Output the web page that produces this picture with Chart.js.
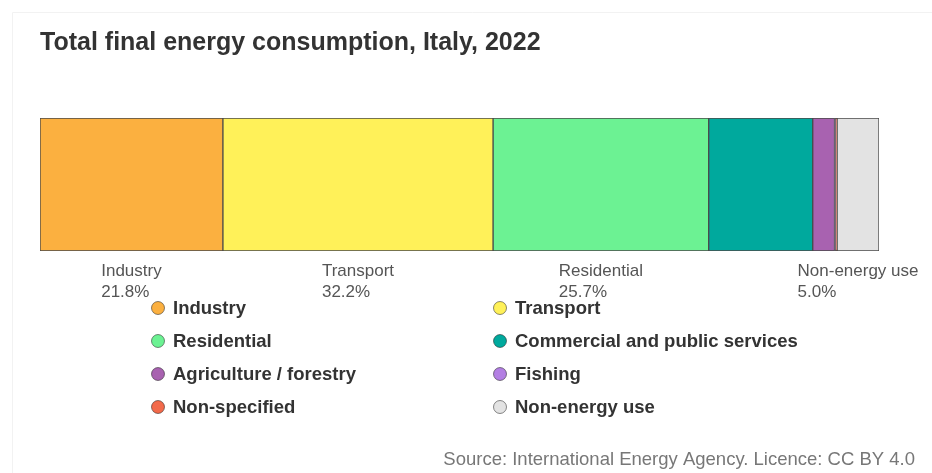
<!DOCTYPE html>
<html>
<head>
<meta charset="utf-8">
<title>Total final energy consumption, Italy, 2022</title>
<script src="https://cdn.jsdelivr.net/npm/chart.js@4.4.1/dist/chart.umd.min.js"></script>
<style>
  html, body { margin: 0; padding: 0; background: #fff; }
  canvas { display: block; }
</style>
</head>
<body>
<canvas id="tfc" width="932" height="473"></canvas>
<script>
const categories = [
  "Industry", "Transport", "Residential", "Commercial and public services",
  "Agriculture / forestry", "Fishing", "Non-specified", "Non-energy use"
];
const shares = [21.8, 32.2, 25.7, 12.4, 2.6, 0.1, 0.2, 5.0];
const colours = [
  "#fbb040", "#fff159", "#6cf293", "#00a99d",
  "#a862b0", "#b37fe3", "#f26a4b", "#e3e3e3"
];
// only these get a name + share under the bar
const labelled = ["Industry", "Transport", "Residential", "Non-energy use"];

const FONT = "'Liberation Sans', Arial, sans-serif";

// title, labels under the bar, two-column legend and source line
const extras = {
  id: "extras",
  afterDraw(chart) {
    const ctx = chart.ctx;
    const x = chart.scales.x;
    const area = chart.chartArea;
    ctx.save();

    // faint frame
    ctx.strokeStyle = "#f2f2f2";
    ctx.lineWidth = 1;
    ctx.beginPath();
    ctx.moveTo(12.5, 473);
    ctx.lineTo(12.5, 12.5);
    ctx.lineTo(932, 12.5);
    ctx.stroke();

    ctx.fillStyle = "#333";
    ctx.font = "bold 25px " + FONT;
    ctx.textBaseline = "middle";
    ctx.textAlign = "left";
    ctx.fillText("Total final energy consumption, Italy, 2022", 40, 43);

    // segment labels
    ctx.font = "17px " + FONT;
    ctx.fillStyle = "#555";
    let start = 0;
    shares.forEach((v, i) => {
      const mid = x.getPixelForValue(start + v / 2);
      start += v;
      if (!labelled.includes(categories[i])) return;
      const pct = v.toFixed(1) + "%";
      const w = Math.max(ctx.measureText(categories[i]).width, ctx.measureText(pct).width);
      const left = mid - w / 2;
      ctx.fillText(categories[i], left, area.bottom + 20);
      ctx.fillText(pct, left, area.bottom + 41);
    });

    // legend
    ctx.font = "bold 18.5px " + FONT;
    categories.forEach((c, i) => {
      const col = i % 2, row = Math.floor(i / 2);
      const cx = col === 0 ? 158 : 500;
      const cy = 308 + row * 33;
      ctx.beginPath();
      ctx.arc(cx, cy, 6.5, 0, Math.PI * 2);
      ctx.fillStyle = colours[i];
      ctx.fill();
      ctx.lineWidth = 1;
      ctx.strokeStyle = "rgba(0,0,0,0.45)";
      ctx.stroke();
      ctx.fillStyle = "#333";
      ctx.fillText(c, cx + 15, cy + 1);
    });

    ctx.font = "18.5px " + FONT;
    ctx.fillStyle = "#777";
    ctx.textAlign = "right";
    ctx.fillText("Source: International Energy Agency. Licence: CC BY 4.0", 915, 460);
    ctx.restore();
  }
};

new Chart(document.getElementById("tfc"), {
  type: "bar",
  data: {
    labels: ["2022"],
    datasets: categories.map((c, i) => ({
      label: c,
      data: [shares[i]],
      backgroundColor: colours[i],
      borderColor: "#4a4a4a",
      borderWidth: 1,
      borderSkipped: false,
      barPercentage: 1,
      categoryPercentage: 1
    }))
  },
  options: {
    indexAxis: "y",
    responsive: false,
    animation: false,
    layout: { padding: { left: 40, right: 53, top: 118, bottom: 222 } },
    scales: {
      x: { stacked: true, min: 0, max: 100, display: false },
      y: { stacked: true, display: false }
    },
    plugins: {
      legend: { display: false },
      tooltip: { enabled: false }
    }
  },
  plugins: [extras]
});
</script>
</body>
</html>
